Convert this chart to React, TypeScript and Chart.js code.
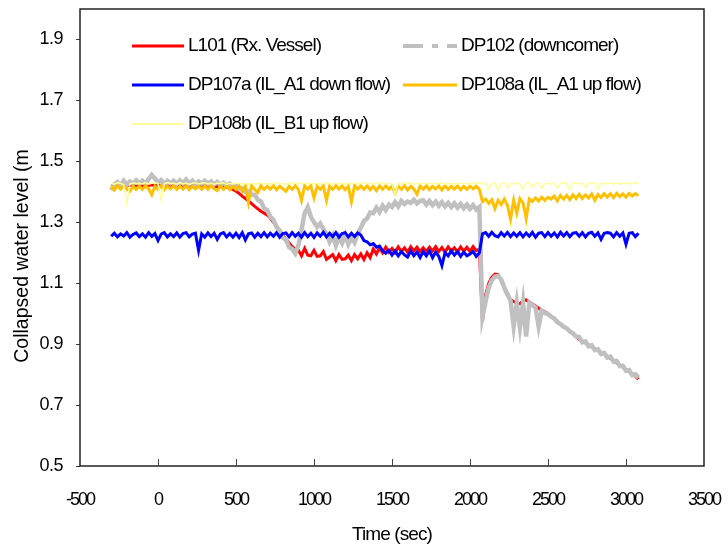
import React, { useEffect, useRef } from "react";
import { Chart, registerables } from "chart.js";

Chart.register(...registerables);

const time = [
  -300, -280, -260, -240, -220, -200, -180, -160, -140, -120,
  -100, -80, -60, -40, -20, 0, 20, 40, 60, 80,
  100, 120, 140, 160, 180, 200, 220, 240, 260, 280,
  300, 320, 340, 360, 380, 400, 420, 440, 460, 480,
  500, 520, 540, 560, 580, 600, 620, 640, 660, 680,
  700, 720, 740, 760, 780, 800, 820, 840, 860, 880,
  900, 920, 940, 960, 980, 1000, 1020, 1040, 1060, 1080,
  1100, 1120, 1140, 1160, 1180, 1200, 1220, 1240, 1260, 1280,
  1300, 1320, 1340, 1360, 1380, 1400, 1420, 1440, 1460, 1480,
  1500, 1520, 1540, 1560, 1580, 1600, 1620, 1640, 1660, 1680,
  1700, 1720, 1740, 1760, 1780, 1800, 1820, 1840, 1860, 1880,
  1900, 1920, 1940, 1960, 1980, 2000, 2020, 2040, 2060, 2080,
  2100, 2120, 2140, 2160, 2180, 2200, 2220, 2240, 2260, 2280,
  2300, 2320, 2340, 2360, 2380, 2400, 2420, 2440, 2460, 2480,
  2500, 2520, 2540, 2560, 2580, 2600, 2620, 2640, 2660, 2680,
  2700, 2720, 2740, 2760, 2780, 2800, 2820, 2840, 2860, 2880,
  2900, 2920, 2940, 2960, 2980, 3000, 3020, 3040, 3060, 3080,
];

const l101 = [
  1.420, 1.418, 1.422, 1.420, 1.421, 1.419, 1.422, 1.420, 1.418, 1.421,
  1.420, 1.422, 1.421, 1.423, 1.420, 1.422, 1.420, 1.421, 1.419, 1.420,
  1.421, 1.420, 1.418, 1.420, 1.419, 1.421, 1.420, 1.418, 1.419, 1.420,
  1.419, 1.418, 1.420, 1.417, 1.418, 1.416, 1.417, 1.415, 1.412, 1.408,
  1.402, 1.395, 1.386, 1.378, 1.370, 1.361, 1.352, 1.344, 1.336, 1.330,
  1.324, 1.314, 1.300, 1.288, 1.272, 1.258, 1.244, 1.232, 1.220, 1.210,
  1.208, 1.190, 1.214, 1.192, 1.190, 1.208, 1.188, 1.190, 1.204, 1.178,
  1.186, 1.194, 1.174, 1.194, 1.178, 1.180, 1.192, 1.174, 1.194, 1.180,
  1.196, 1.178, 1.200, 1.184, 1.212, 1.196, 1.216, 1.200, 1.218, 1.202,
  1.214, 1.200, 1.219, 1.204, 1.216, 1.202, 1.220, 1.206, 1.218, 1.204,
  1.216, 1.204, 1.218, 1.206, 1.220, 1.204, 1.217, 1.202, 1.219, 1.206,
  1.216, 1.202, 1.219, 1.205, 1.218, 1.204, 1.220, 1.207, 1.212, 0.975,
  1.060, 1.100, 1.120, 1.130, 1.128, 1.110, 1.082, 1.060, 1.046, 1.040,
  1.035, 1.032, 1.042, 1.045, 1.038, 1.032, 1.025, 1.018, 1.012, 1.006,
  1.000, 0.992, 0.983, 0.975, 0.966, 0.958, 0.950, 0.941, 0.933, 0.925,
  0.916, 0.910, 0.904, 0.897, 0.891, 0.885, 0.879, 0.873, 0.866, 0.860,
  0.853, 0.846, 0.839, 0.831, 0.824, 0.817, 0.809, 0.802, 0.795, 0.785,
];

const dp102 = [
  1.405, 1.424, 1.432, 1.420, 1.436, 1.424, 1.434, 1.426, 1.438, 1.428,
  1.436, 1.426, 1.442, 1.455, 1.444, 1.430, 1.438, 1.426, 1.436, 1.428,
  1.436, 1.426, 1.438, 1.428, 1.440, 1.426, 1.436, 1.424, 1.434, 1.427,
  1.436, 1.426, 1.434, 1.424, 1.432, 1.422, 1.430, 1.420, 1.427, 1.418,
  1.420, 1.410, 1.412, 1.400, 1.402, 1.390, 1.390, 1.374, 1.368, 1.346,
  1.340, 1.318, 1.308, 1.284, 1.274, 1.250, 1.242, 1.218, 1.212, 1.198,
  1.225, 1.275, 1.330, 1.350, 1.318, 1.300, 1.285, 1.296, 1.278, 1.262,
  1.236, 1.256, 1.224, 1.252, 1.232, 1.258, 1.228, 1.250, 1.234, 1.262,
  1.282, 1.304, 1.312, 1.332, 1.330, 1.348, 1.334, 1.354, 1.340, 1.358,
  1.350, 1.366, 1.352, 1.370, 1.360, 1.368, 1.364, 1.374, 1.362, 1.370,
  1.372, 1.358, 1.370, 1.356, 1.368, 1.354, 1.366, 1.352, 1.364, 1.350,
  1.362, 1.348, 1.360, 1.346, 1.358, 1.344, 1.356, 1.342, 1.350, 0.990,
  1.040, 1.085, 1.110, 1.122, 1.124, 1.112, 1.086, 1.064, 1.042, 0.958,
  1.035, 0.955, 1.036, 0.925, 1.035, 1.028, 1.020, 0.958, 1.010, 1.002,
  0.999, 0.990, 0.984, 0.972, 0.966, 0.957, 0.952, 0.942, 0.936, 0.925,
  0.923, 0.906, 0.909, 0.893, 0.896, 0.880, 0.883, 0.868, 0.871, 0.856,
  0.859, 0.843, 0.845, 0.828, 0.829, 0.813, 0.815, 0.798, 0.801, 0.790,
];

const dp107a = [
  1.254, 1.264, 1.252, 1.262, 1.255, 1.266, 1.251, 1.260, 1.265, 1.253,
  1.262, 1.251, 1.266, 1.254, 1.263, 1.240, 1.261, 1.266, 1.252, 1.262,
  1.253, 1.265, 1.251, 1.263, 1.266, 1.252, 1.261, 1.264, 1.208, 1.262,
  1.251, 1.265, 1.253, 1.264, 1.244, 1.262, 1.266, 1.252, 1.263, 1.251,
  1.264, 1.250, 1.266, 1.242, 1.262, 1.265, 1.251, 1.264, 1.253, 1.266,
  1.252, 1.264, 1.254, 1.266, 1.251, 1.263, 1.265, 1.252, 1.266, 1.254,
  1.264, 1.251, 1.266, 1.253, 1.264, 1.250, 1.265, 1.254, 1.267, 1.252,
  1.264, 1.253, 1.266, 1.251, 1.263, 1.266, 1.252, 1.264, 1.253, 1.265,
  1.258, 1.240, 1.236, 1.226, 1.230, 1.218, 1.222, 1.206, 1.198, 1.208,
  1.192, 1.206, 1.190, 1.204, 1.193, 1.186, 1.206, 1.190, 1.202, 1.184,
  1.204, 1.190, 1.206, 1.184, 1.202, 1.188, 1.158, 1.200, 1.190, 1.206,
  1.192, 1.204, 1.188, 1.202, 1.190, 1.196, 1.204, 1.188, 1.200, 1.262,
  1.266, 1.254, 1.267, 1.256, 1.252, 1.266, 1.255, 1.267, 1.253, 1.265,
  1.254, 1.266, 1.252, 1.265, 1.254, 1.267, 1.251, 1.264, 1.266, 1.253,
  1.266, 1.254, 1.265, 1.252, 1.267, 1.255, 1.266, 1.253, 1.264, 1.266,
  1.254, 1.266, 1.252, 1.264, 1.267, 1.254, 1.265, 1.244, 1.264, 1.266,
  1.264, 1.252, 1.266, 1.254, 1.265, 1.228, 1.264, 1.266, 1.253, 1.264,
];

const dp108a = [
  1.418, 1.406, 1.420, 1.409, 1.419, 1.408, 1.402, 1.418, 1.408, 1.419,
  1.408, 1.420, 1.410, 1.390, 1.418, 1.408, 1.420, 1.407, 1.419, 1.410,
  1.420, 1.408, 1.418, 1.409, 1.420, 1.407, 1.418, 1.410, 1.419, 1.408,
  1.419, 1.408, 1.420, 1.410, 1.404, 1.419, 1.408, 1.420, 1.407, 1.418,
  1.408, 1.419, 1.402, 1.418, 1.365, 1.419, 1.408, 1.398, 1.420, 1.408,
  1.418, 1.409, 1.420, 1.407, 1.419, 1.410, 1.402, 1.418, 1.408, 1.420,
  1.408, 1.372, 1.419, 1.409, 1.420, 1.380, 1.418, 1.408, 1.419, 1.372,
  1.418, 1.408, 1.420, 1.409, 1.419, 1.407, 1.418, 1.368, 1.420, 1.409,
  1.419, 1.408, 1.420, 1.407, 1.418, 1.404, 1.419, 1.408, 1.420, 1.409,
  1.418, 1.396, 1.419, 1.408, 1.420, 1.406, 1.418, 1.409, 1.392, 1.419,
  1.408, 1.420, 1.407, 1.418, 1.409, 1.419, 1.406, 1.420, 1.408, 1.418,
  1.409, 1.420, 1.407, 1.418, 1.408, 1.419, 1.410, 1.418, 1.408, 1.368,
  1.376, 1.362, 1.374, 1.345, 1.372, 1.358, 1.376, 1.356, 1.310, 1.372,
  1.330, 1.378, 1.364, 1.312, 1.376, 1.368, 1.380, 1.370, 1.382, 1.372,
  1.382, 1.376, 1.386, 1.370, 1.388, 1.376, 1.388, 1.374, 1.390, 1.378,
  1.392, 1.378, 1.390, 1.380, 1.393, 1.372, 1.391, 1.381, 1.394, 1.382,
  1.394, 1.381, 1.395, 1.384, 1.393, 1.382, 1.395, 1.386, 1.394, 1.388,
];

const dp108b = [
  1.428, 1.425, 1.430, 1.427, 1.424, 1.362, 1.426, 1.429, 1.427, 1.428,
  1.426, 1.430, 1.425, 1.428, 1.430, 1.427, 1.372, 1.426, 1.430, 1.427,
  1.428, 1.425, 1.430, 1.426, 1.429, 1.424, 1.428, 1.430, 1.426, 1.428,
  1.430, 1.426, 1.428, 1.425, 1.429, 1.427, 1.430, 1.424, 1.428, 1.426,
  1.428, 1.430, 1.425, 1.428, 1.426, 1.429, 1.424, 1.428, 1.430, 1.426,
  1.429, 1.425, 1.428, 1.430, 1.426, 1.428, 1.424, 1.429, 1.427, 1.430,
  1.426, 1.428, 1.430, 1.425, 1.428, 1.426, 1.429, 1.424, 1.428, 1.430,
  1.427, 1.425, 1.429, 1.426, 1.430, 1.424, 1.428, 1.427, 1.429, 1.425,
  1.428, 1.430, 1.426, 1.428, 1.425, 1.429, 1.427, 1.430, 1.426, 1.428,
  1.426, 1.392, 1.428, 1.425, 1.430, 1.427, 1.429, 1.424, 1.428, 1.426,
  1.430, 1.426, 1.428, 1.425, 1.429, 1.427, 1.430, 1.424, 1.428, 1.426,
  1.428, 1.425, 1.430, 1.426, 1.428, 1.424, 1.429, 1.427, 1.430, 1.426,
  1.428, 1.410, 1.426, 1.429, 1.405, 1.427, 1.430, 1.412, 1.428, 1.425,
  1.429, 1.426, 1.408, 1.428, 1.430, 1.415, 1.427, 1.429, 1.410, 1.426,
  1.428, 1.425, 1.429, 1.412, 1.427, 1.430, 1.426, 1.408, 1.428, 1.429,
  1.426, 1.428, 1.415, 1.429, 1.427, 1.430, 1.410, 1.428, 1.426, 1.429,
  1.428, 1.426, 1.430, 1.425, 1.429, 1.427, 1.428, 1.426, 1.430, 1.427,
];

const seriesNames = [
  "L101 (Rx. Vessel)",
  "DP102 (downcomer)",
  "DP107a (IL_A1 down flow)",
  "DP108a (IL_A1 up flow)",
  "DP108b (IL_B1 up flow)",
];
const seriesValues = [l101, dp102, dp107a, dp108a, dp108b];
const seriesColors = ["#FF0000", "#C0C0C0", "#0000FF", "#FFC000", "#FFFF99"];
const seriesWidths = [3, 4.5, 3, 3, 1.5];

const xTicks = [-500, 0, 500, 1000, 1500, 2000, 2500, 3000, 3500];
const yTicks = [0.5, 0.7, 0.9, 1.1, 1.3, 1.5, 1.7, 1.9];
const xTitle = "Time (sec)";
const yTitle = "Collapsed water level (m";

const FONT = "'Liberation Sans', Arial, sans-serif";

const legendSlots = [
  { col: 0, row: 0 },
  { col: 1, row: 0 },
  { col: 0, row: 1 },
  { col: 1, row: 1 },
  { col: 0, row: 2 },
];

const decorPlugin = {
  id: "decor",
  beforeDraw(chart: any) {
    const ctx = chart.ctx;
    ctx.save();
    ctx.fillStyle = "#fff";
    ctx.fillRect(0, 0, chart.width, chart.height);
    ctx.restore();
    const patch = (scale: any, spacing: string) => {
      if (!scale || scale._lsPatched) return;
      const orig = scale.drawLabels;
      scale.drawLabels = function (area: any) {
        const c = this.ctx;
        c.save();
        c.letterSpacing = spacing;
        orig.call(this, area);
        c.restore();
      };
      scale._lsPatched = true;
    };
    patch(chart.scales.x, "-2px");
    patch(chart.scales.y, "-0.5px");
  },
  afterDraw(chart: any) {
    const ctx = chart.ctx;
    const a = chart.chartArea;
    const xs = chart.scales.x;
    ctx.save();
    ctx.strokeStyle = "#222";
    ctx.lineWidth = 1.5;
    ctx.strokeRect(a.left, a.top, a.right - a.left, a.bottom - a.top);
    ctx.lineWidth = 1;
    ctx.strokeStyle = "#444";
    xTicks.forEach((v) => {
      if (v <= xs.min || v >= xs.max) return;
      const px = Math.round(xs.getPixelForValue(v)) + 0.5;
      ctx.beginPath();
      ctx.moveTo(px, a.bottom);
      ctx.lineTo(px, a.bottom - 7);
      ctx.stroke();
    });

    const colX = [132, 403];
    const colW = [52, 54];
    const rowY = [46, 85, 124];
    ctx.font = `19px ${FONT}`;
    ctx.textBaseline = "middle";
    ctx.textAlign = "left";
    (ctx as any).letterSpacing = "-1px";
    seriesNames.forEach((name, i) => {
      const slot = legendSlots[i];
      const x0 = colX[slot.col];
      const y = rowY[slot.row];
      ctx.save();
      ctx.strokeStyle = seriesColors[i];
      ctx.lineWidth = i === 1 ? 4 : i === 4 ? 2 : 3;
      if (i === 1) ctx.setLineDash([20, 9, 6, 9]);
      ctx.beginPath();
      ctx.moveTo(x0, y);
      ctx.lineTo(x0 + colW[slot.col], y);
      ctx.stroke();
      ctx.restore();
      ctx.fillStyle = "#000";
      ctx.fillText(name, x0 + colW[slot.col] + 4, y);
    });

    (ctx as any).letterSpacing = "-0.9px";
    ctx.textAlign = "center";
    ctx.font = `19px ${FONT}`;
    ctx.fillText(xTitle, (a.left + a.right) / 2, 535);

    (ctx as any).letterSpacing = "0px";
    ctx.save();
    ctx.translate(23, 256);
    ctx.rotate(-Math.PI / 2);
    ctx.font = `19.5px ${FONT}`;
    ctx.textAlign = "center";
    ctx.fillText(yTitle, 0, 0);
    ctx.restore();
    ctx.restore();
  },
};

export default function App() {
  const canvasRef = useRef<HTMLCanvasElement | null>(null);

  useEffect(() => {
    const canvas = canvasRef.current;
    if (!canvas) return;
    const datasets = seriesValues.map((vals, i) => ({
      label: seriesNames[i],
      data: time.map((t, k) => ({ x: t, y: vals[k] })),
      borderColor: seriesColors[i],
      backgroundColor: seriesColors[i],
      borderWidth: seriesWidths[i],
      pointRadius: 0,
      fill: false,
      tension: 0,
      order: seriesValues.length - i,
    }));
    const chart = new Chart(canvas, {
      type: "line",
      data: { datasets },
      options: {
        responsive: false,
        animation: false,
        events: [],
        layout: { padding: { left: 0, right: 24, top: 9, bottom: 0 } },
        plugins: {
          legend: { display: false },
          tooltip: { enabled: false },
          title: { display: false },
        },
        scales: {
          x: {
            type: "linear",
            min: -500,
            max: 3500,
            afterBuildTicks: (s: any) => {
              s.ticks = xTicks.map((v) => ({ value: v }));
            },
            afterFit: (s: any) => {
              s.height = 82;
              s.paddingLeft = 0;
              s.paddingRight = 0;
            },
            grid: { display: true, drawOnChartArea: false, drawTicks: false },
            border: { display: false },
            ticks: {
              autoSkip: false,
              maxRotation: 0,
              padding: 23,
              color: "#000",
              font: { family: FONT, size: 18 },
              callback: (v: any) => String(v),
            },
          },
          y: {
            type: "linear",
            min: 0.5,
            max: 2.0,
            afterBuildTicks: (s: any) => {
              s.ticks = yTicks.map((v) => ({ value: v }));
            },
            afterFit: (s: any) => {
              s.width = 80;
              s.paddingTop = 0;
              s.paddingBottom = 0;
            },
            grid: {
              display: true,
              drawOnChartArea: false,
              drawTicks: true,
              tickLength: 4,
              color: "#333",
            },
            border: { display: false },
            ticks: {
              padding: 13,
              color: "#000",
              font: { family: FONT, size: 18 },
              callback: (v: any) => Number(v).toFixed(1),
            },
          },
        },
      } as any,
      plugins: [decorPlugin],
    });
    return () => chart.destroy();
  }, []);

  return (
    <div style={{ position: "absolute", left: 0, top: 0, width: 728, height: 548 }}>
      <canvas ref={canvasRef} width={728} height={548} style={{ display: "block" }} />
    </div>
  );
}
